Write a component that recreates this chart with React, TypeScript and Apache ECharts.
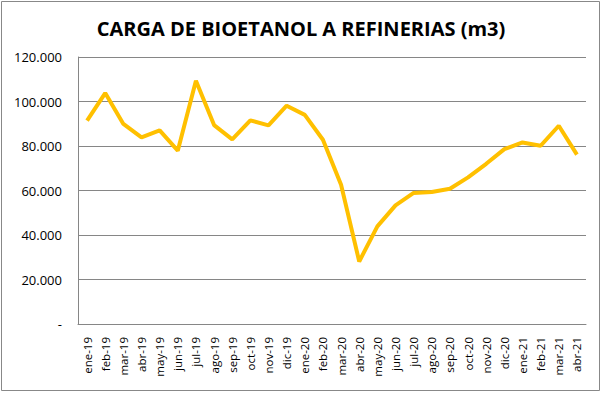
import React, { useEffect, useRef } from "react";
import * as echarts from "echarts";

const title = "CARGA DE BIOETANOL A REFINERIAS (m3)";
const months = [
  "ene-19", "feb-19", "mar-19", "abr-19", "may-19", "jun-19", "jul-19", "ago-19", "sep-19", "oct-19", "nov-19", "dic-19",
  "ene-20", "feb-20", "mar-20", "abr-20", "may-20", "jun-20", "jul-20", "ago-20", "sep-20", "oct-20", "nov-20", "dic-20",
  "ene-21", "feb-21", "mar-21", "abr-21",
];
const carga = [
  91400, 103800, 89900, 83900, 87000, 77900, 109300, 89400, 83000, 91500, 89300, 98100,
  94000, 82800, 62600, 28100, 43900, 53300, 58900, 59300, 60800, 65900, 72000, 78600,
  81600, 80100, 89100, 76100,
];

const fmt = (v: number) => {
  if (v === 0) return "-";
  return String(Math.round(v)).replace(/\B(?=(\d{3})+(?!\d))/g, ".");
};

export default function App() {
  const ref = useRef<HTMLDivElement>(null);
  useEffect(() => {
    if (!ref.current) return;
    const chart = echarts.init(ref.current, null, { renderer: "svg" });
    const font = "'Open Sans', 'Liberation Sans', sans-serif";
    chart.setOption({
      animation: false,
      backgroundColor: "#ffffff",
      title: {
        text: title,
        left: "center",
        top: 13,
        textStyle: { fontSize: 20, fontWeight: "bold", color: "#000", fontFamily: font },
      },
      graphic: [
        {
          type: "rect",
          shape: { x: 1.5, y: 1.5, width: 598, height: 389 },
          style: { fill: "none", stroke: "#888888", lineWidth: 1 },
          silent: true,
        },
      ],
      grid: { left: 78, right: 16, top: 57, bottom: 70, containLabel: false },
      xAxis: {
        type: "category",
        data: months,
        boundaryGap: true,
        axisLine: { show: true, lineStyle: { color: "#868686" } },
        axisTick: { show: false },
        axisLabel: {
          rotate: 90,
          interval: 0,
          fontSize: 11.5,
          color: "#000",
          fontFamily: font,
          margin: 13,
        },
      },
      yAxis: {
        type: "value",
        min: 0,
        max: 120000,
        interval: 20000,
        axisLine: { show: true, lineStyle: { color: "#868686" } },
        axisTick: { show: false },
        splitLine: { show: true, lineStyle: { color: "#868686", width: 1 } },
        axisLabel: {
          formatter: fmt,
          fontSize: 13,
          color: "#000",
          fontFamily: font,
          margin: 16,
        },
      },
      series: [
        {
          type: "line",
          data: carga,
          symbol: "none",
          lineStyle: { color: "#FFC000", width: 4 },
          itemStyle: { color: "#FFC000" },
        },
      ],
    });
    return () => chart.dispose();
  }, []);
  return (
    <div
      ref={ref}
      style={{ position: "fixed", left: 0, top: 0, width: 602, height: 394 }}
    />
  );
}
